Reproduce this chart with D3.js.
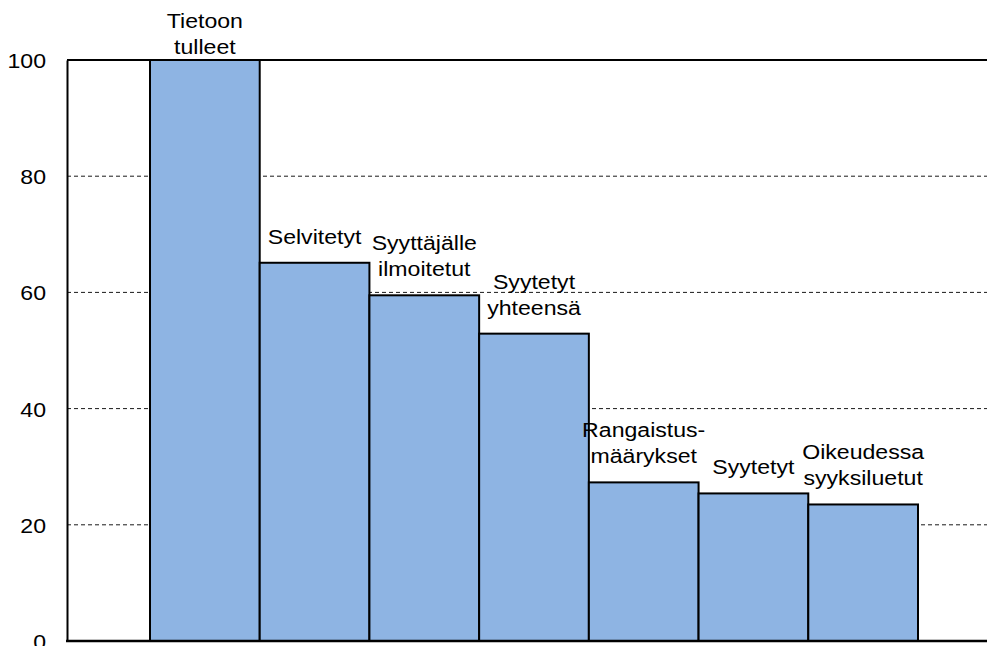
<!DOCTYPE html>
<html>
<head>
<meta charset="utf-8">
<script src="https://cdn.jsdelivr.net/npm/d3@7"></script>
<style>
    body { margin: 0; background: white; }
    text { font-family: "Liberation Sans", Arial, sans-serif; fill: black; }
</style>
</head>
<body>
<div id="chart"></div>
<script>
    'use strict';

    // datos
    var categorias = [
        ["Tietoon", "tulleet"],
        ["Selvitetyt"],
        ["Syyttäjälle", "ilmoitetut"],
        ["Syytetyt", "yhteensä"],
        ["Rangaistus-", "määrykset"],
        ["Syytetyt"],
        ["Oikeudessa", "syyksiluetut"]
    ];
    var valores = [100, 65.1, 59.5, 52.9, 27.3, 25.4, 23.5];
    var ticks = [0, 20, 40, 60, 80, 100];

    var width = 987, height = 646;
    var plotLeft = 67, plotTop = 60, plotBottom = 641;

    var svg = d3.select("#chart")
        .append("svg")
        .attr("width", width)
        .attr("height", height);

    var x = d3.scaleBand()
        .domain(d3.range(valores.length))
        .range([150, 918])
        .paddingInner(0)
        .paddingOuter(0);

    var y = d3.scaleLinear()
        .domain([0, 100])
        .range([plotBottom, plotTop]);

    // lineas de grilla
    svg.append("g").selectAll("line")
        .data(ticks.filter(function (t) { return t > 0 && t < 100; }))
        .enter().append("line")
        .attr("x1", plotLeft).attr("x2", width)
        .attr("y1", function (d) { return y(d); })
        .attr("y2", function (d) { return y(d); })
        .attr("stroke", "#1a1a1a")
        .attr("stroke-width", 1)
        .attr("stroke-dasharray", "4,3");

    // linea superior (100)
    svg.append("line")
        .attr("x1", plotLeft).attr("x2", width)
        .attr("y1", y(100)).attr("y2", y(100))
        .attr("stroke", "black").attr("stroke-width", 2);

    // barras
    svg.append("g").selectAll("rect")
        .data(valores)
        .enter().append("rect")
        .attr("x", function (d, i) { return x(i); })
        .attr("y", function (d) { return y(d); })
        .attr("width", x.bandwidth())
        .attr("height", function (d) { return y(0) - y(d); })
        .attr("fill", "#8EB4E3")
        .attr("stroke", "black")
        .attr("stroke-width", 2);

    // eje y
    var ejeY = svg.append("g")
        .attr("transform", "translate(" + plotLeft + ",0)")
        .call(d3.axisLeft(y).tickValues(ticks).tickSize(0).tickPadding(21));
    ejeY.select(".domain").attr("stroke", "black").attr("stroke-width", 2);
    ejeY.selectAll("text")
        .style("font-size", "21px")
        .attr("transform", "scale(1.1,1)")
        .attr("x", -21 / 1.1)
        .attr("dy", "0.36em");

    // eje x
    svg.append("line")
        .attr("x1", plotLeft - 1).attr("x2", width)
        .attr("y1", y(0)).attr("y2", y(0))
        .attr("stroke", "black").attr("stroke-width", 2.5);

    // etiquetas de las barras
    var lineH = 26;
    var etiquetas = svg.append("g").selectAll("g")
        .data(valores)
        .enter().append("g")
        .attr("transform", function (d, i) {
            var n = categorias[i].length;
            var base = Math.max(y(d) - 19, 12 + 16 + (n - 1) * lineH);
            return "translate(" + (x(i) + x.bandwidth() / 2) + "," + base + ")";
        });

    etiquetas.each(function (d, i) {
        var lineas = categorias[i];
        var g = d3.select(this);
        lineas.forEach(function (t, j) {
            g.append("text")
                .attr("text-anchor", "middle")
                .attr("transform", "translate(0," + (j - lineas.length + 1) * lineH + ") scale(1.1,1)")
                .style("font-size", "21px")
                .text(t);
        });
    });
</script>
</body>
</html>
